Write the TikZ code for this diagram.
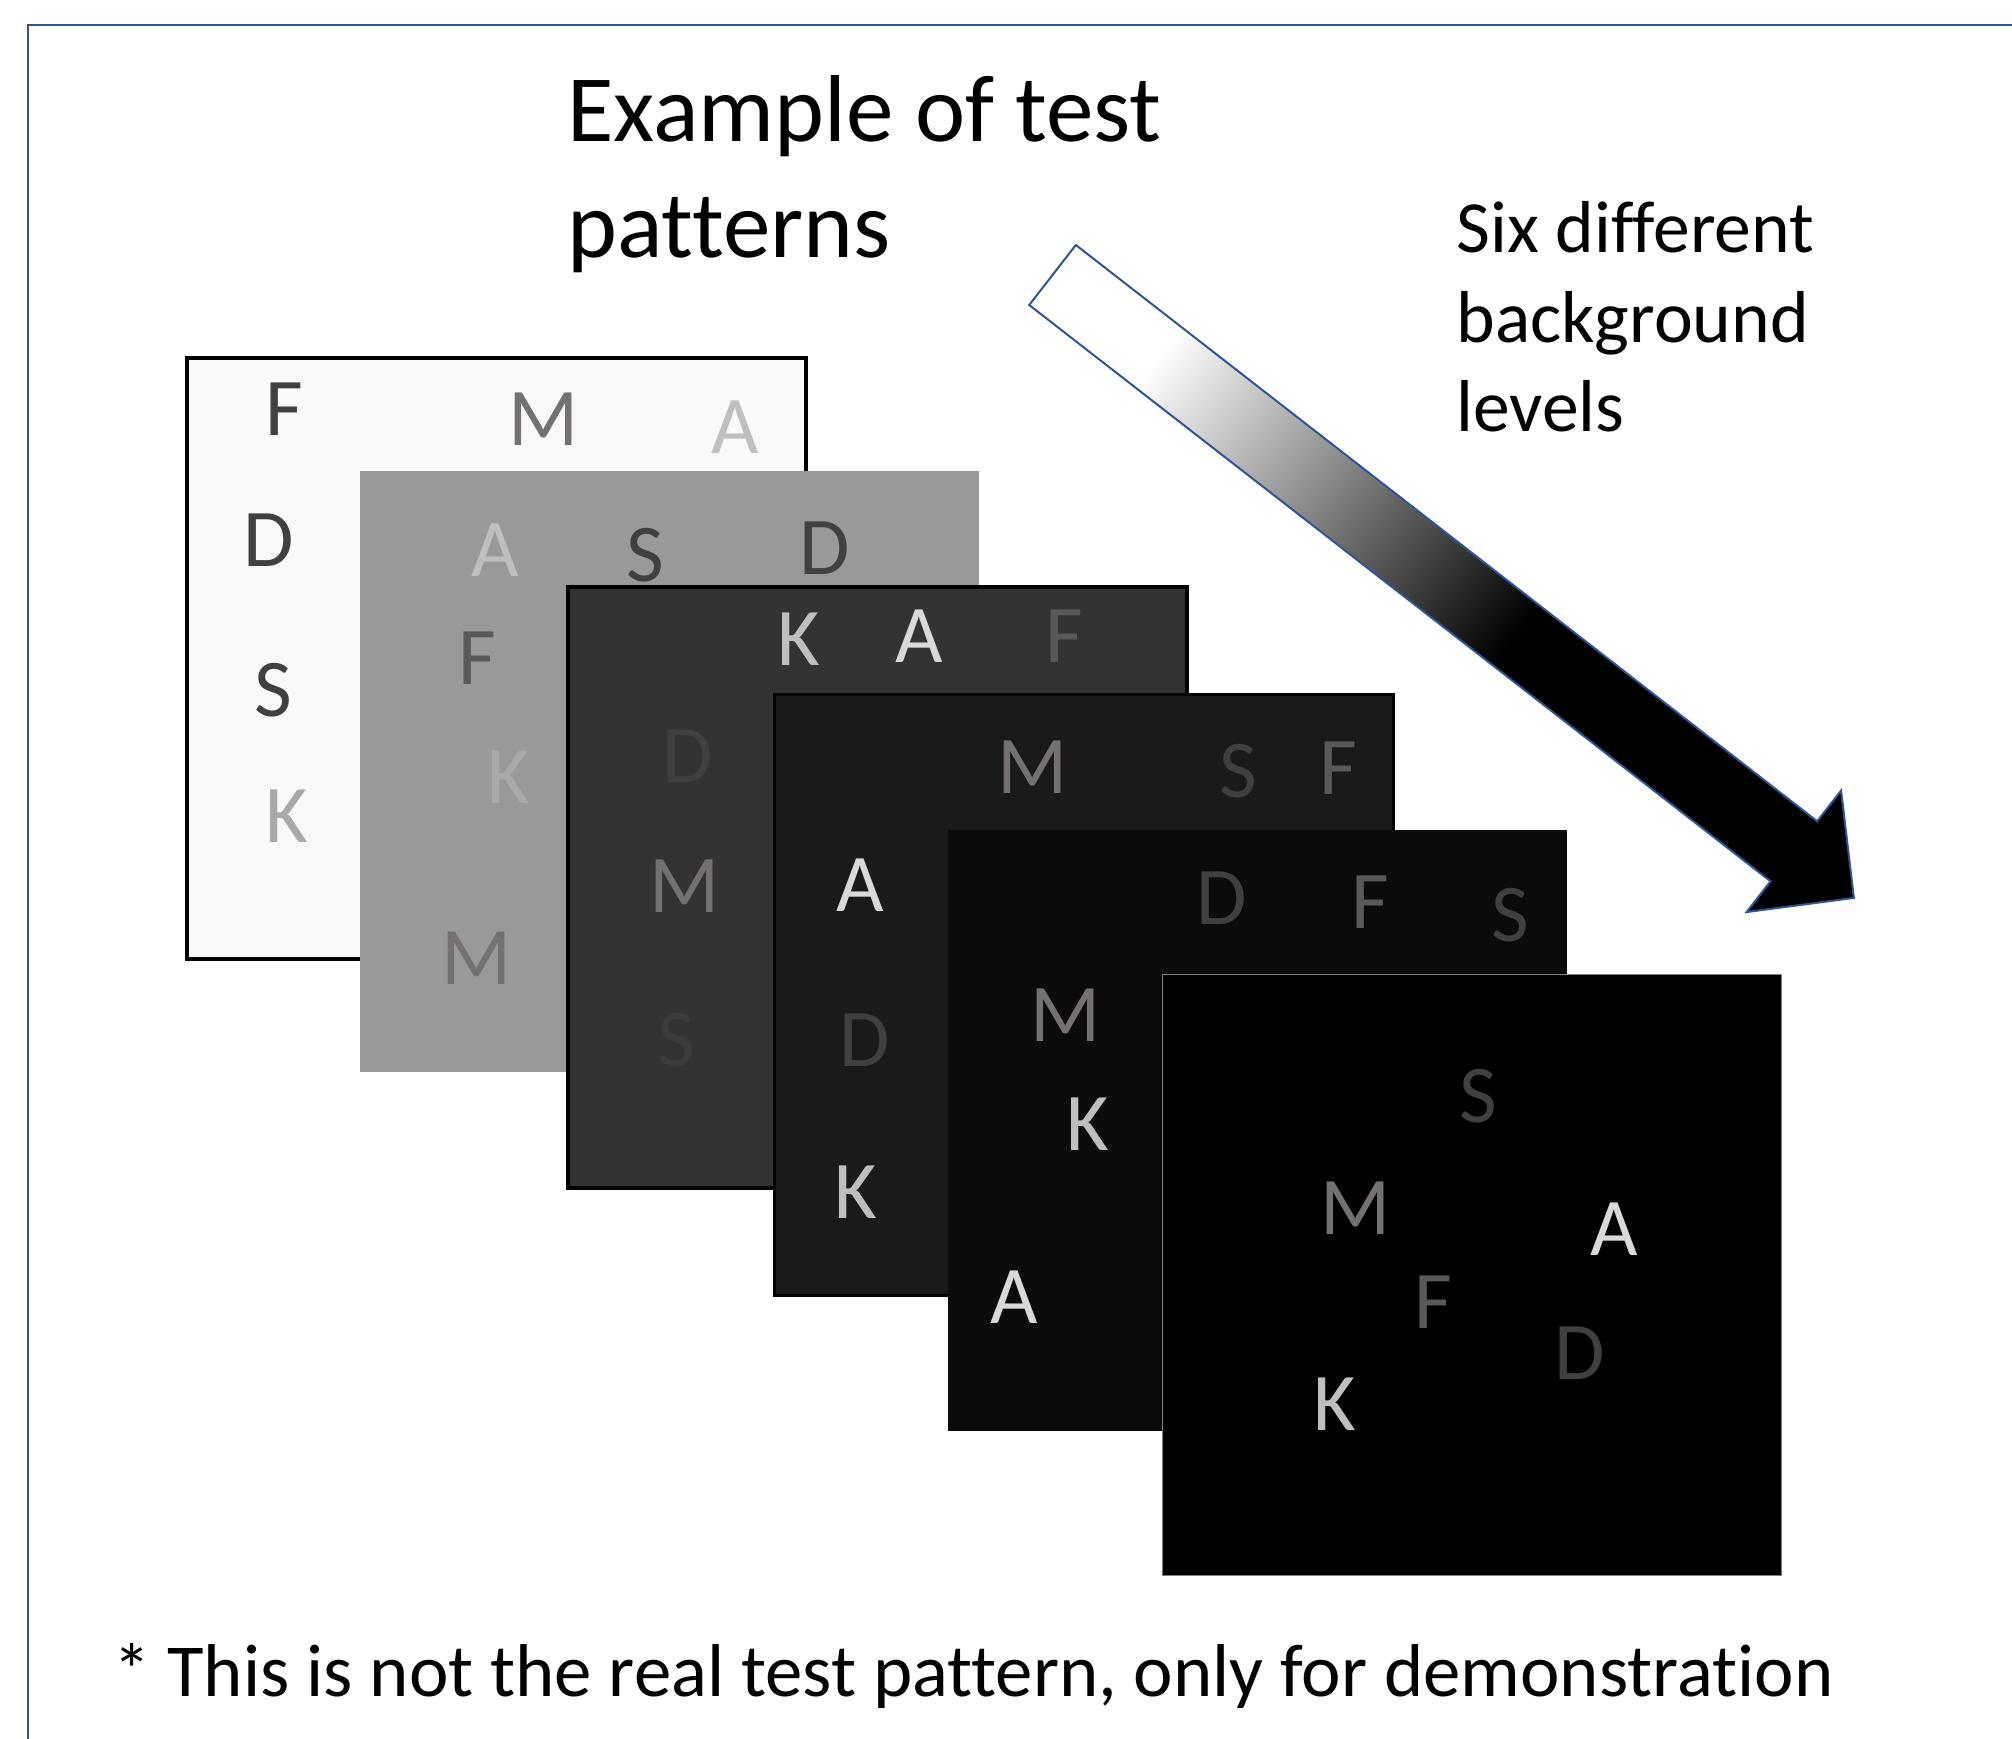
\documentclass[tikz,border=0pt]{standalone}
\usepackage{fontspec}
\setmainfont{Carlito}[Ligatures=NoCommon]
\definecolor{framecol}{HTML}{2F5597}
\definecolor{lev1}{HTML}{F9F9F9}
\definecolor{lev2}{HTML}{999999}
\definecolor{lev3}{HTML}{333333}
\definecolor{lev4}{HTML}{1A1A1A}
\definecolor{lev5}{HTML}{0B0B0B}
\definecolor{lev6}{HTML}{000000}
\definecolor{gA}{HTML}{D9D9D9}
\definecolor{gAl}{HTML}{BFBFBF}
\definecolor{gK}{HTML}{BFBFBF}
\definecolor{gKl}{HTML}{A9A9A9}
\definecolor{gM}{HTML}{767171}
\definecolor{gF}{HTML}{595959}
\definecolor{gD}{HTML}{404040}
\definecolor{gS}{HTML}{3B3B3B}
\pgfdeclarehorizontalshading{levelshade}{100bp}{color(0bp)=(white); color(31.5bp)=(white); color(54bp)=(black); color(100bp)=(black)}

\begin{document}
\begin{tikzpicture}[x=0.5pt,y=-0.5pt]
    \tikzset{
      PanelStyle/.style = { rectangle, inner sep=0pt,
                            minimum width=309.5pt, minimum height=300.5pt },
      GlyphStyle/.style = { anchor=base, inner sep=0pt,
                            font=\fontsize{41}{41}\selectfont },
      TextStyle/.style  = { anchor=base west, inner sep=0pt } }
    \useasboundingbox (0,0) rectangle (2012,1739);

    \draw[framecol, line width=1.2pt] (28,1739) -- (28,25) -- (2012,25);

    \node[TextStyle, font=\fontsize{47.5}{47.5}\selectfont] (title1) at (567,142) {Example of test};
    \node[TextStyle, font=\fontsize{47.5}{47.5}\selectfont] (title2) at (567,257) {patterns};

    \node[TextStyle, font=\fontsize{36.8}{36.8}\selectfont] (side1) at (1456,253) {Six different};
    \node[TextStyle, font=\fontsize{36.8}{36.8}\selectfont] (side2) at (1456,342) {background};
    \node[TextStyle, font=\fontsize{36.8}{36.8}\selectfont] (side3) at (1456,431) {levels};

    \begin{scope}[transform canvas={shift={(1052.5,275)}, rotate=-37.86}]
      \shade[shading=levelshade, draw=framecol, line width=1pt]
        (0,-38) -- (939,-38) -- (939,-77) -- (1015,0) -- (939,77) -- (939,38) -- (0,38) -- cycle;
    \end{scope}

    \node[PanelStyle, fill=lev1, draw=black, line width=2pt] (pan1) at (496,658) {};
    \node[GlyphStyle, text=gD] (p1F) at (284,435) {F};
    \node[GlyphStyle, text=gM] (p1M) at (544,445) {M};
    \node[GlyphStyle, text=gAl] (p1A) at (735,453) {A};
    \node[GlyphStyle, text=gD] (p1D) at (269,566) {D};
    \node[GlyphStyle, text=gD] (p1S) at (273,716) {S};
    \node[GlyphStyle, text=gKl] (p1K) at (287,842) {K};

    \node[PanelStyle, fill=lev2] (pan2) at (669,771) {};
    \node[GlyphStyle, text=gAl] (p2A) at (495,576) {A};
    \node[GlyphStyle, text=gD] (p2S) at (645,581) {S};
    \node[GlyphStyle, text=gD] (p2D) at (825,574) {D};
    \node[GlyphStyle, text=gF] (p2F) at (477,684) {F};
    \node[GlyphStyle, text=gKl] (p2K) at (509,803) {K};
    \node[GlyphStyle, text=gM] (p2M) at (477,984) {M};

    \node[PanelStyle, fill=lev3, draw=black, line width=2pt] (pan3) at (877.5,887) {};
    \node[GlyphStyle, text=gK] (p3K) at (799,665) {K};
    \node[GlyphStyle, text=gA] (p3A) at (919,662) {A};
    \node[GlyphStyle, text=gF] (p3F) at (1064,662) {F};
    \node[GlyphStyle, text=gD] (p3D) at (688,782) {D};
    \node[GlyphStyle, text=gM] (p3M) at (685,912) {M};
    \node[GlyphStyle, text=gS] (p3S) at (676,1066) {S};

    \node[PanelStyle, fill=lev4, draw=black, line width=1.5pt] (pan4) at (1084,994.5) {};
    \node[GlyphStyle, text=gM] (p4M) at (1033,793) {M};
    \node[GlyphStyle, text=gD] (p4S) at (1238,797) {S};
    \node[GlyphStyle, text=gF] (p4F) at (1338,794) {F};
    \node[GlyphStyle, text=gA] (p4A) at (860,911) {A};
    \node[GlyphStyle, text=gD] (p4D) at (865,1066) {D};
    \node[GlyphStyle, text=gK] (p4K) at (856,1218) {K};

    \node[PanelStyle, fill=lev5] (pan5) at (1257,1130.5) {};
    \node[GlyphStyle, text=gD] (p5D) at (1222,924) {D};
    \node[GlyphStyle, text=gF] (p5F) at (1370,928) {F};
    \node[GlyphStyle, text=gD] (p5S) at (1510,941) {S};
    \node[GlyphStyle, text=gM] (p5M) at (1066,1041) {M};
    \node[GlyphStyle, text=gK] (p5K) at (1088,1150) {K};
    \node[GlyphStyle, text=gA] (p5A) at (1014,1323) {A};

    \node[PanelStyle, fill=lev6, draw=gray, line width=0.5pt] (pan6) at (1471.5,1274.5) {};
    \node[GlyphStyle, text=gD] (p6S) at (1478,1122) {S};
    \node[GlyphStyle, text=gM] (p6M) at (1356,1234) {M};
    \node[GlyphStyle, text=gA] (p6A) at (1614,1255) {A};
    \node[GlyphStyle, text=gF] (p6F) at (1433,1328) {F};
    \node[GlyphStyle, text=gD] (p6D) at (1580,1379) {D};
    \node[GlyphStyle, text=gK] (p6K) at (1335,1430) {K};

    \node[TextStyle, font=\fontsize{37.4}{37.4}\selectfont] (note) at (113,1696)
      {* This is not the real test pattern, only for demonstration};
\end{tikzpicture}
\end{document}
